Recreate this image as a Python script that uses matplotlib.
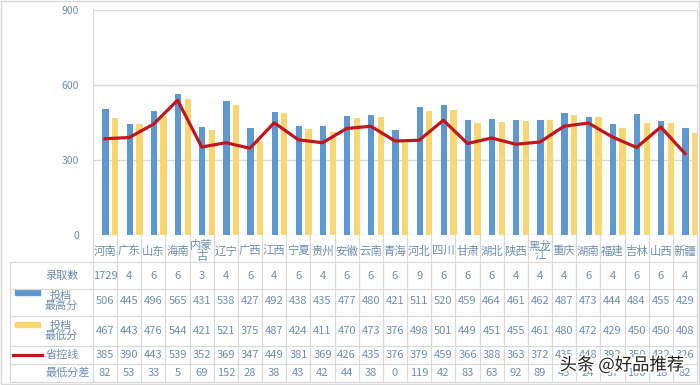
import numpy as np
import matplotlib
matplotlib.use("Agg")
import matplotlib.pyplot as plt
import matplotlib.patheffects as pe
from matplotlib import transforms
from matplotlib.patches import Rectangle
from matplotlib.lines import Line2D

plt.rcParams['font.family'] = ['Noto Sans CJK SC', 'DejaVu Sans']

provinces = ["河南", "广东", "山东", "海南", "内蒙\n古", "辽宁", "广西", "江西", "宁夏", "贵州",
             "安徽", "云南", "青海", "河北", "四川", "甘肃", "湖北", "陕西", "黑龙\n江", "重庆",
             "湖南", "福建", "吉林", "山西", "新疆"]
admitted = [1729, 4, 6, 6, 3, 4, 6, 4, 6, 4, 6, 6, 6, 9, 6, 6, 6, 4, 4, 4, 6, 4, 6, 6, 4]
max_score = [506, 445, 496, 565, 431, 538, 427, 492, 438, 435, 477, 480, 421, 511, 520,
             459, 464, 461, 462, 487, 473, 444, 484, 455, 429]
min_score = [467, 443, 476, 544, 421, 521, 375, 487, 424, 411, 470, 473, 376, 498, 501,
             449, 451, 455, 461, 480, 472, 429, 450, 450, 408]
control_line = [385, 390, 443, 539, 352, 369, 347, 449, 381, 369, 426, 435, 376, 379, 459,
                366, 388, 363, 372, 435, 448, 392, 350, 432, 326]
min_diff = [82, 53, 33, 5, 69, 152, 28, 38, 43, 42, 44, 38, 0, 119, 42,
            83, 63, 92, 89, 45, 24, 37, 100, 18, 82]
yticks = [0, 300, 600, 900]

BLUE = "#5F98CF"
YELLOW = "#FAD671"
RED = "#C0161C"
TXT = "#6F8FAE"
GRID = "#D9D9D9"

W, H = 700, 385
fig = plt.figure(figsize=(W / 100, H / 100), dpi=100)


def fy(py):
    return 1 - py / H


def fx(px):
    return px / W


ax = fig.add_axes([fx(93), fy(235), fx(697) - fx(93), fy(10) - fy(235)])
n = len(provinces)
x = np.arange(n)
ax.bar(x + 0.02, max_score, width=0.26, color=BLUE, zorder=2)
ax.bar(x + 0.42, min_score, width=0.26, color=YELLOW, zorder=2)
ax.plot(x, control_line, color=RED, lw=2.3, zorder=3, solid_joinstyle="round")
ax.set_xlim(-0.5, n - 0.5)
ax.set_ylim(0, 900)
ax.set_yticks(yticks)
ax.set_yticklabels([str(v) for v in yticks], color=TXT, fontsize=7.5)
ax.tick_params(axis="y", length=0, pad=10)
ax.set_xticks([])
ax.grid(axis="y", color=GRID, lw=1, zorder=0)
for s in ["top", "bottom"]:
    ax.spines[s].set_visible(False)
for s in ["left", "right"]:
    ax.spines[s].set_color(GRID)

# data table below the axis
tr = transforms.blended_transform_factory(ax.transData, fig.transFigure)
rows = [235, 262, 289, 316, 346, 364, 382]
centers = [251, 276, 301, 331, 355, 373]
series = [admitted, max_score, min_score, control_line, min_diff]
FS = 8

for i in range(n):
    ax.text(i, fy(centers[0]), provinces[i], transform=tr, ha="center", va="center",
            fontsize=8.2, color=TXT, linespacing=1.0, clip_on=False)
    for r, vals in enumerate(series):
        ax.text(i, fy(centers[r + 1]), str(vals[i]), transform=tr, ha="center", va="center",
                fontsize=FS, color=TXT, clip_on=False)

for b in np.arange(n + 1) - 0.5:
    ax.add_line(Line2D([b, b], [fy(rows[0]), fy(rows[-1])], transform=tr, color=GRID,
                       lw=0.9, clip_on=False))
for py in rows[1:]:
    fig.add_artist(Line2D([fx(10), fx(697)], [fy(py), fy(py)], color=GRID, lw=0.9))
fig.add_artist(Line2D([fx(10), fx(10)], [fy(rows[1]), fy(rows[-1])], color=GRID, lw=0.9))

# row headers
fig.text(fx(62), fy(centers[1]), "录取数", ha="center", va="center", fontsize=FS, color=TXT)
fig.text(fx(61), fy(centers[2]), "投档\n最高分", ha="center", va="center", fontsize=FS,
         color=TXT, linespacing=1.0)
fig.text(fx(61), fy(centers[3]), "投档\n最低分", ha="center", va="center", fontsize=FS,
         color=TXT, linespacing=1.0)
fig.text(fx(62), fy(centers[4]), "省控线", ha="center", va="center", fontsize=FS, color=TXT)
fig.text(fx(68), fy(centers[5]), "最低分差", ha="center", va="center", fontsize=FS, color=TXT)
fig.add_artist(Rectangle((fx(15), fy(295)), fx(40) - fx(15), fy(290) - fy(295), color=BLUE))
fig.add_artist(Rectangle((fx(15), fy(327)), fx(40) - fx(15), fy(322) - fy(327), color=YELLOW))
fig.add_artist(Line2D([fx(13), fx(42)], [fy(355), fy(355)], color=RED, lw=2.3))

# outer border
fig.add_artist(Rectangle((0.001, 0.002), 0.997, 0.995, fill=False, ec=GRID, lw=1))

# watermark
fig.text(fx(622), fy(365), "头条 @好品推荐", ha="center", va="center", fontsize=12.5,
         color="#222222", path_effects=[pe.withStroke(linewidth=2.5, foreground="white")])

fig.savefig("out.png", dpi=100)
